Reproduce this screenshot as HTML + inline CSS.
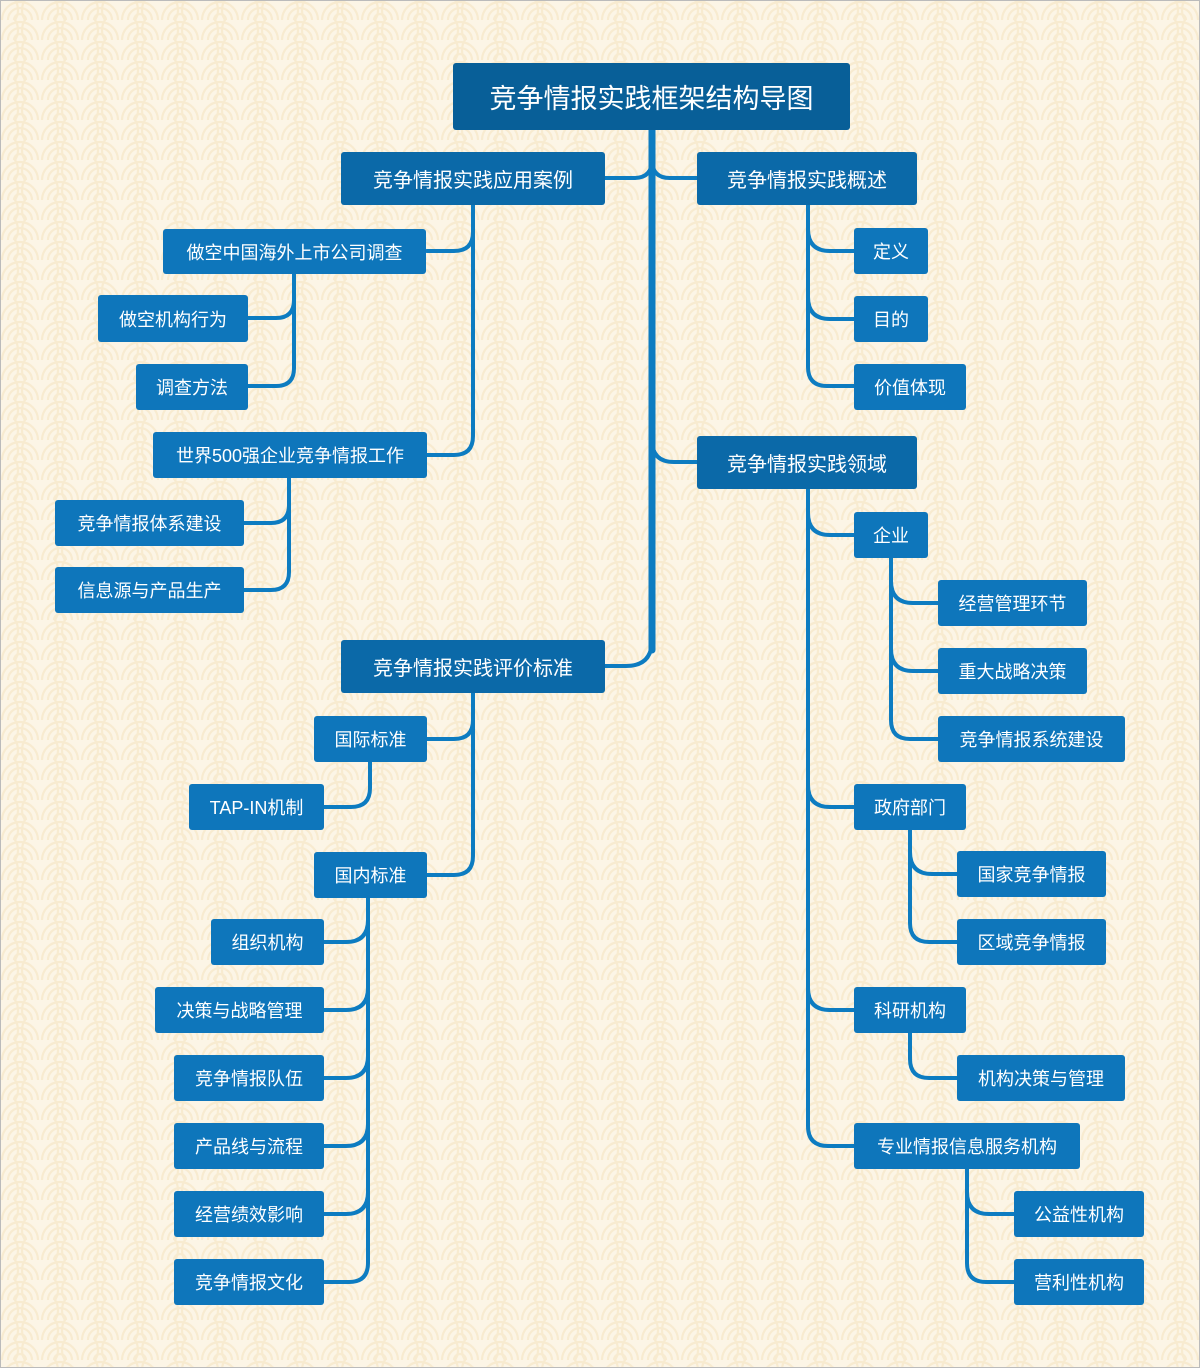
<!DOCTYPE html>
<html><head><meta charset="utf-8">
<style>
html,body{margin:0;padding:0}
body{width:1200px;height:1368px;position:relative;overflow:hidden;background:#fcf5e6;font-family:"Liberation Sans","Noto Sans CJK SC",sans-serif}
.n{position:absolute;color:#fff;background:#0e76bb;border-radius:3px;display:flex;align-items:center;justify-content:center;font-size:18px;box-sizing:border-box;white-space:nowrap}
.l1{background:#0b69a8;font-size:20px}
.root{background:#085f98;font-size:27px}
svg{position:absolute;left:0;top:0}
</style></head><body>
<svg width="1200" height="1368">
<defs>
<pattern id="p" width="40" height="20" patternUnits="userSpaceOnUse">
<g fill="none" stroke="#f6e6c6" stroke-width="2.2">
<circle cx="20" cy="20" r="18"/><circle cx="20" cy="20" r="12"/><circle cx="20" cy="20" r="6"/>
<circle cx="0" cy="10" r="18"/><circle cx="40" cy="10" r="18"/>
</g>
</pattern>
</defs>
<rect x="0" y="0" width="1200" height="1368" fill="url(#p)" opacity="0.7"/>
<rect x="0.5" y="0.5" width="1199" height="1367" fill="none" stroke="#bbb"/>
<g fill="none" stroke="#0d7cc1" stroke-linecap="round">
<!-- trunk -->
<path stroke-width="7" d="M652,130 V650"/>
<path stroke-width="4" d="M652,140 V160 Q652,178 634,178 H605"/>
<path stroke-width="4" d="M652,140 V160 Q652,178 670,178 H697"/>
<path stroke-width="4" d="M652,440 Q652,462 674,462 H697"/>
<path stroke-width="4" d="M652,640 Q652,666 626,666 H605"/>
<!-- 应用案例 -->
<g stroke-width="4">
<path d="M473,205 V232 Q473,251 454,251 H427"/>
<path d="M473,232 V436 Q473,455 454,455 H427"/>
<path d="M294,274 V300 Q294,318 276,318 H248"/>
<path d="M294,300 V368 Q294,386 276,386 H248"/>
<path d="M289,478 V505 Q289,523 271,523 H244"/>
<path d="M289,505 V572 Q289,590 271,590 H244"/>
<!-- 评价标准 -->
<path d="M473,693 V720 Q473,739 454,739 H427"/>
<path d="M473,720 V856 Q473,875 454,875 H427"/>
<path d="M370,762 V788 Q370,807 351,807 H324"/>
<path d="M368,898 V1263 Q368,1282 349,1282 H324"/>
<path d="M368,920 Q368,942 346,942 H324"/>
<path d="M368,988 Q368,1010 346,1010 H324"/>
<path d="M368,1056 Q368,1078 346,1078 H324"/>
<path d="M368,1124 Q368,1146 346,1146 H324"/>
<path d="M368,1192 Q368,1214 346,1214 H324"/>
<!-- 概述 -->
<path d="M808,205 V367 Q808,386 827,386 H854"/>
<path d="M808,229 Q808,251 830,251 H854"/>
<path d="M808,297 Q808,319 830,319 H854"/>
<!-- 领域 -->
<path d="M808,489 V1126 Q808,1146 828,1146 H854"/>
<path d="M808,513 Q808,535 830,535 H854"/>
<path d="M808,785 Q808,807 830,807 H854"/>
<path d="M808,988 Q808,1010 830,1010 H854"/>
<path d="M891,558 V720 Q891,739 910,739 H938"/>
<path d="M891,581 Q891,603 913,603 H938"/>
<path d="M891,649 Q891,671 913,671 H938"/>
<path d="M910,830 V923 Q910,942 929,942 H957"/>
<path d="M910,852 Q910,874 932,874 H957"/>
<path d="M910,1033 V1059 Q910,1078 929,1078 H957"/>
<path d="M967,1169 V1263 Q967,1282 986,1282 H1014"/>
<path d="M967,1192 Q967,1214 989,1214 H1014"/>
</g>
</g>
</svg>

<div class="n root" style="left:453px;top:63px;width:397px;height:67px">竞争情报实践框架结构导图</div>
<div class="n l1" style="left:341px;top:152px;width:264px;height:53px">竞争情报实践应用案例</div>
<div class="n l1" style="left:697px;top:152px;width:220px;height:53px">竞争情报实践概述</div>
<div class="n l1" style="left:697px;top:436px;width:220px;height:53px">竞争情报实践领域</div>
<div class="n l1" style="left:341px;top:640px;width:264px;height:53px">竞争情报实践评价标准</div>

<div class="n" style="left:163px;top:229px;width:263px;height:45px">做空中国海外上市公司调查</div>
<div class="n" style="left:98px;top:295px;width:150px;height:47px">做空机构行为</div>
<div class="n" style="left:136px;top:364px;width:112px;height:46px">调查方法</div>
<div class="n" style="left:153px;top:432px;width:274px;height:46px">世界500强企业竞争情报工作</div>
<div class="n" style="left:55px;top:500px;width:189px;height:46px">竞争情报体系建设</div>
<div class="n" style="left:55px;top:567px;width:189px;height:46px">信息源与产品生产</div>

<div class="n" style="left:314px;top:716px;width:113px;height:46px">国际标准</div>
<div class="n" style="left:189px;top:784px;width:135px;height:46px">TAP-IN机制</div>
<div class="n" style="left:314px;top:852px;width:113px;height:46px">国内标准</div>
<div class="n" style="left:211px;top:919px;width:113px;height:46px">组织机构</div>
<div class="n" style="left:155px;top:987px;width:169px;height:46px">决策与战略管理</div>
<div class="n" style="left:174px;top:1055px;width:150px;height:46px">竞争情报队伍</div>
<div class="n" style="left:174px;top:1123px;width:150px;height:46px">产品线与流程</div>
<div class="n" style="left:174px;top:1191px;width:150px;height:46px">经营绩效影响</div>
<div class="n" style="left:174px;top:1259px;width:150px;height:46px">竞争情报文化</div>

<div class="n" style="left:854px;top:228px;width:74px;height:46px">定义</div>
<div class="n" style="left:854px;top:296px;width:74px;height:46px">目的</div>
<div class="n" style="left:854px;top:364px;width:112px;height:46px">价值体现</div>

<div class="n" style="left:854px;top:512px;width:74px;height:46px">企业</div>
<div class="n" style="left:938px;top:580px;width:149px;height:46px">经营管理环节</div>
<div class="n" style="left:938px;top:648px;width:149px;height:46px">重大战略决策</div>
<div class="n" style="left:938px;top:716px;width:187px;height:46px">竞争情报系统建设</div>
<div class="n" style="left:854px;top:784px;width:112px;height:46px">政府部门</div>
<div class="n" style="left:957px;top:851px;width:149px;height:46px">国家竞争情报</div>
<div class="n" style="left:957px;top:919px;width:149px;height:46px">区域竞争情报</div>
<div class="n" style="left:854px;top:987px;width:112px;height:46px">科研机构</div>
<div class="n" style="left:957px;top:1055px;width:168px;height:46px">机构决策与管理</div>
<div class="n" style="left:854px;top:1123px;width:226px;height:46px">专业情报信息服务机构</div>
<div class="n" style="left:1014px;top:1191px;width:130px;height:46px">公益性机构</div>
<div class="n" style="left:1014px;top:1259px;width:130px;height:46px">营利性机构</div>
</body></html>
